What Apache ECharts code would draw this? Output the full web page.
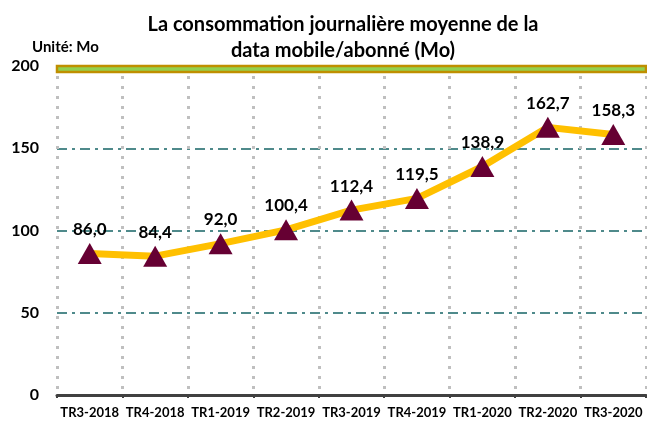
<!DOCTYPE html>
<html><head><meta charset="utf-8">
<script src="https://cdn.jsdelivr.net/npm/echarts@6/dist/echarts.min.js"></script>
<style>html,body{margin:0;padding:0;background:#fff}#c{width:647px;height:423px}</style>
</head><body><div id="c"></div>
<script>
const categories = ['TR3-2018','TR4-2018','TR1-2019','TR2-2019','TR3-2019','TR4-2019','TR1-2020','TR2-2020','TR3-2020'];
const values = [86.0, 84.4, 92.0, 100.4, 112.4, 119.5, 138.9, 162.7, 158.3];
const yTicks = [0, 50, 100, 150, 200];
const titleText = 'La consommation journalière moyenne de la\ndata mobile/abonné (Mo)';
const unitText = 'Unité: Mo';
const bandRange = [196.3, 203.7];

const FONT = 'Lato, "Open Sans", sans-serif';
const W = 'bold';
const chart = echarts.init(document.getElementById('c'));
chart.setOption({
  animation: false,
  title: [{
    text: titleText, left: 338, textAlign: 'center', top: 7,
    textStyle: {fontFamily: FONT, fontWeight: W, fontSize: 20, color: '#000', lineHeight: 26}
  }, {
    text: unitText, left: 27, top: 35,
    textStyle: {fontFamily: FONT, fontWeight: W, fontSize: 15, color: '#000'}
  }],
  grid: {left: 57, right: 1, top: 66, bottom: 28, containLabel: false},
  xAxis: {
    type: 'category', data: categories, boundaryGap: true,
    axisLine: {show: true, lineStyle: {color: '#404040', width: 3}},
    axisTick: {show: true, length: 3, lineStyle: {color: '#404040', width: 2}},
    axisLabel: {interval: 0, fontFamily: FONT, fontWeight: W, fontSize: 13, color: '#000', margin: 11},
    splitLine: {show: true, interval: 0, lineStyle: {color: '#bfbfbf', width: 3, type: [3, 7]}}
  },
  yAxis: {
    type: 'value', min: 0, max: 200, interval: 50,
    axisLine: {show: false}, axisTick: {show: false},
    axisLabel: {fontFamily: FONT, fontWeight: W, fontSize: 16, color: '#000', margin: 18,
      formatter: v => yTicks.includes(v) ? String(v) : ''},
    splitLine: {show: true, lineStyle: {color: '#4f8a8b', width: 2, type: [10, 5, 3, 5]}}
  },
  series: [{
    type: 'line', data: values, clip: false,
    lineStyle: {color: '#ffc000', width: 7},
    symbol: 'triangle', symbolSize: [24, 21],
    itemStyle: {color: '#660033'},
    label: {show: true, position: 'top', distance: 5,
      formatter: p => p.value.toFixed(1).replace('.', ','),
      fontFamily: FONT, fontWeight: W, fontSize: 17, color: '#000'},
    z: 3,
    markArea: {
      silent: true,
      itemStyle: {color: '#92d050', borderColor: '#bf8f00', borderWidth: 2.5},
      data: [[{yAxis: bandRange[0]}, {yAxis: bandRange[1]}]]
    }
  }]
});
</script></body></html>
